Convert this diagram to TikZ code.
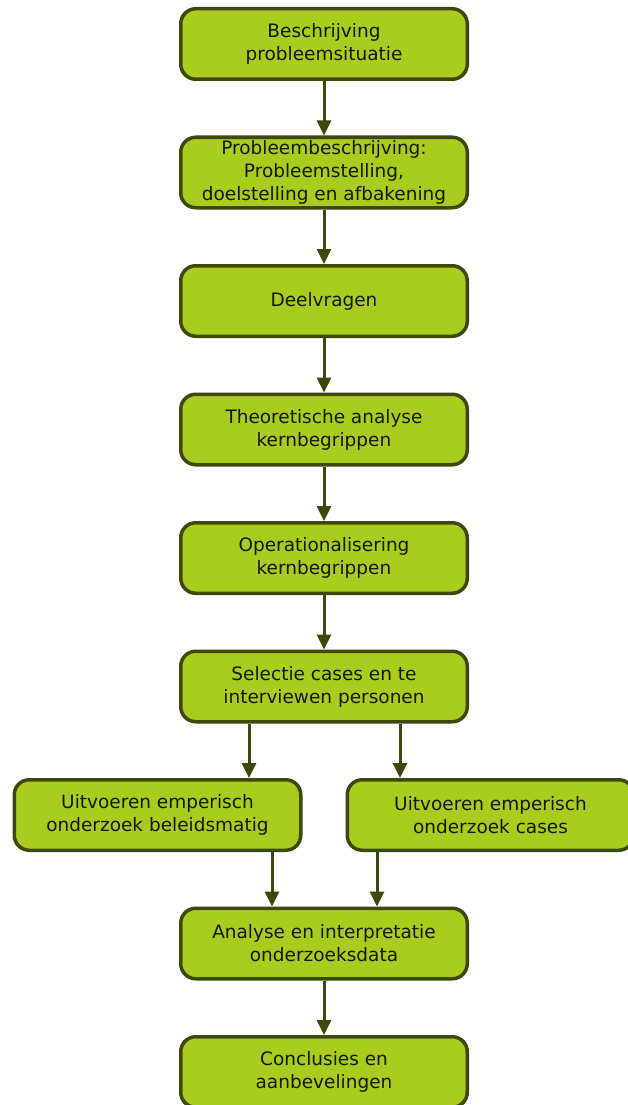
\documentclass[tikz,border=0pt]{standalone}
\usepackage{fontspec}
\setmainfont{DejaVu Sans}
\usetikzlibrary{arrows.meta}
\definecolor{boxfill}{HTML}{AACC1E}
\definecolor{boxline}{HTML}{3B4A0A}
\definecolor{txt}{HTML}{141A00}
\begin{document}
\begin{tikzpicture}[x=1pt,y=-1pt,
  stepbox/.style={draw=boxline, line width=3.5pt, fill=boxfill, rounded corners=15pt,
    minimum width=286.5pt, minimum height=70.5pt, inner sep=0pt,
    align=center, text=txt, font=\fontsize{18.5pt}{23pt}\selectfont},
  arr/.style={draw=boxline, line width=3pt,
    -{Triangle[length=15pt,width=14pt]}}]
\useasboundingbox (0,0) rectangle (627,1105);
\node[stepbox] (b1) at (324,44) {Beschrijving\\probleemsituatie};
\node[stepbox] (b2) at (324,172.5) {Probleembeschrijving:\\Probleemstelling,\\doelstelling en afbakening};
\node[stepbox] (b3) at (324,301) {Deelvragen};
\node[stepbox] (b4) at (324,429.5) {Theoretische analyse\\kernbegrippen};
\node[stepbox] (b5) at (324,558) {Operationalisering\\kernbegrippen};
\node[stepbox] (b6) at (324,686.5) {Selectie cases en te\\interviewen personen};
\node[stepbox] (e1) at (157.5,815) {Uitvoeren emperisch\\onderzoek beleidsmatig};
\node[stepbox] (e2) at (490.5,815) {Uitvoeren emperisch\\onderzoek cases};
\node[stepbox] (b8) at (324,943.5) {Analyse en interpretatie\\onderzoeksdata};
\node[stepbox] (b9) at (324,1072) {Conclusies en\\aanbevelingen};
\draw[arr] (b1) -- (b2);
\draw[arr] (b2) -- (b3);
\draw[arr] (b3) -- (b4);
\draw[arr] (b4) -- (b5);
\draw[arr] (b5) -- (b6);
\draw[arr] ([xshift=-75pt]b6.south) -- ([xshift=-75pt]b6.south |- e1.north);
\draw[arr] ([xshift=76pt]b6.south) -- ([xshift=76pt]b6.south |- e2.north);
\draw[arr] ([xshift=114.5pt]e1.south) -- ([xshift=114.5pt]e1.south |- b8.north);
\draw[arr] ([xshift=-113.5pt]e2.south) -- ([xshift=-113.5pt]e2.south |- b8.north);
\draw[arr] (b8) -- (b9);
\end{tikzpicture}
\end{document}
